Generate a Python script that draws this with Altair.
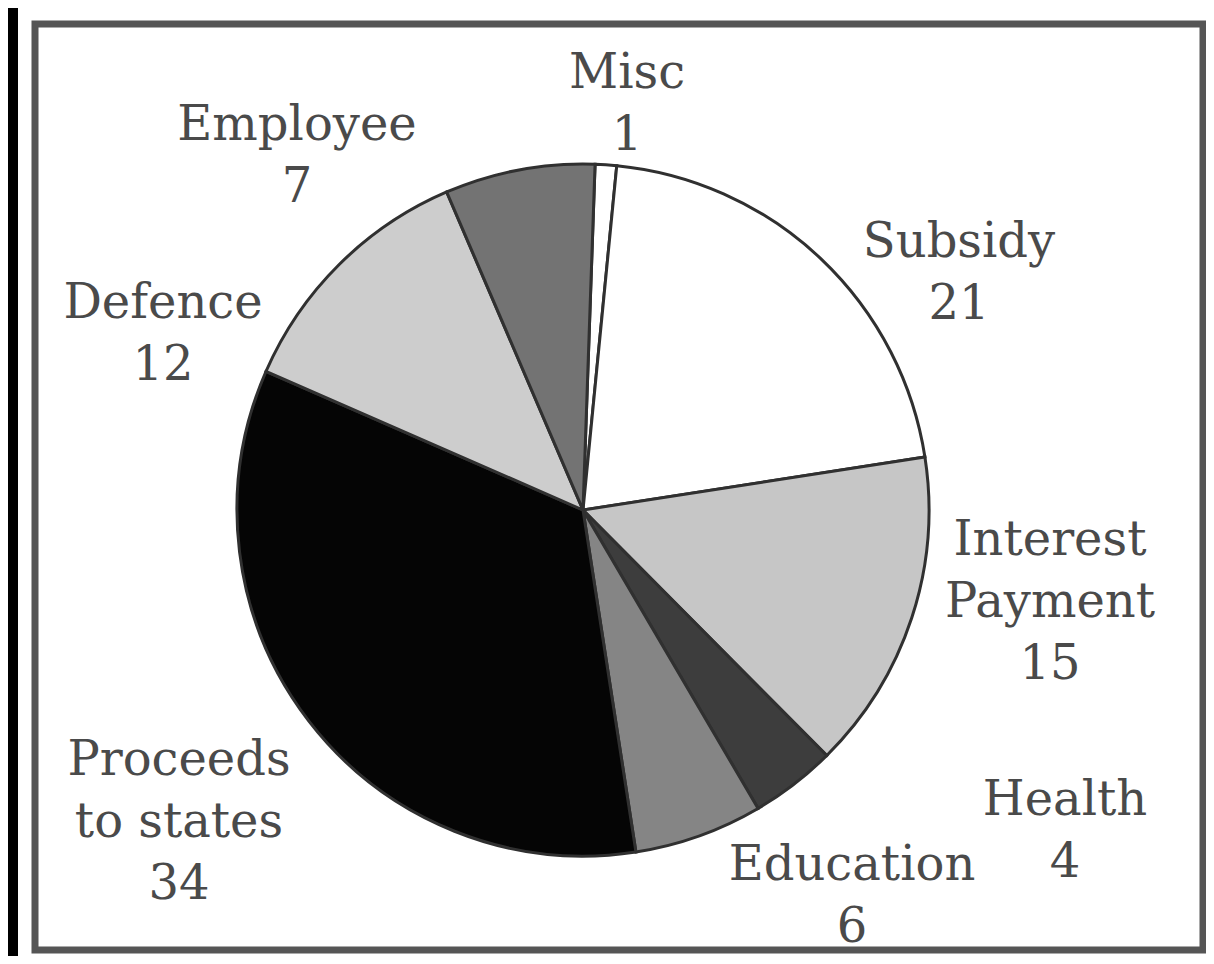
import math
import altair as alt
import pandas as pd

# ---- data ----
categories = ["Misc", "Subsidy", "Interest Payment", "Health", "Education",
              "Proceeds to states", "Defence", "Employee"]
values = [1, 21, 15, 4, 6, 34, 12, 7]
label_names = ["Misc", "Subsidy", "Interest\nPayment", "Health", "Education",
               "Proceeds\nto states", "Defence", "Employee"]

# ---- styles / layout (kept apart from the data) ----
slice_colors = ["#ffffff", "#ffffff", "#c6c6c6", "#3d3d3d", "#858585",
                "#050505", "#cdcdcd", "#737373"]
label_x = [619, 951, 1042, 1057, 844, 171, 155, 289]
label_y = [80, 249, 547, 807, 872, 767, 310, 132]
W, H = 1198, 948
CX, CY, R = 575, 502, 346
start = math.radians(2)

pie_df = pd.DataFrame({"category": categories, "value": values,
                       "order": list(range(len(categories)))})
lab_df = pd.DataFrame({
    "label": [f"{n}\n{v}" for n, v in zip(label_names, values)],
    "lx": label_x, "ly": label_y,
})
one = pd.DataFrame({"a": [0]})

band = alt.Chart(one).mark_rect(color="black").encode(
    x=alt.value(0), x2=alt.value(10), y=alt.value(0), y2=alt.value(H))

frame = alt.Chart(one).mark_rect(fillOpacity=0, stroke="#555555", strokeWidth=7).encode(
    x=alt.value(27), x2=alt.value(1195), y=alt.value(16), y2=alt.value(942))

pie = alt.Chart(pie_df).mark_arc(radius=R, stroke="#303030", strokeWidth=3).encode(
    theta=alt.Theta("value:Q", stack=True,
                    scale=alt.Scale(range=[start, start + 2 * math.pi])),
    color=alt.Color("category:N", scale=alt.Scale(domain=categories, range=slice_colors),
                    legend=None),
    order=alt.Order("order:Q"),
    x=alt.value(CX), y=alt.value(CY),
)

labels = alt.Chart(lab_df).mark_text(
    font="DejaVu Serif", fontSize=48, color="#4a4a4a", align="center",
    baseline="alphabetic", lineBreak="\n", lineHeight=62,
).encode(
    x=alt.X("lx:Q", scale=None),
    y=alt.Y("ly:Q", scale=None),
    text="label:N",
)

chart = alt.layer(band, frame, pie, labels).properties(
    width=W, height=H, padding=0, autosize="none", background="white"
).configure_view(stroke=None)

chart.save("out.html", embed_options={"renderer": "svg", "actions": False})
